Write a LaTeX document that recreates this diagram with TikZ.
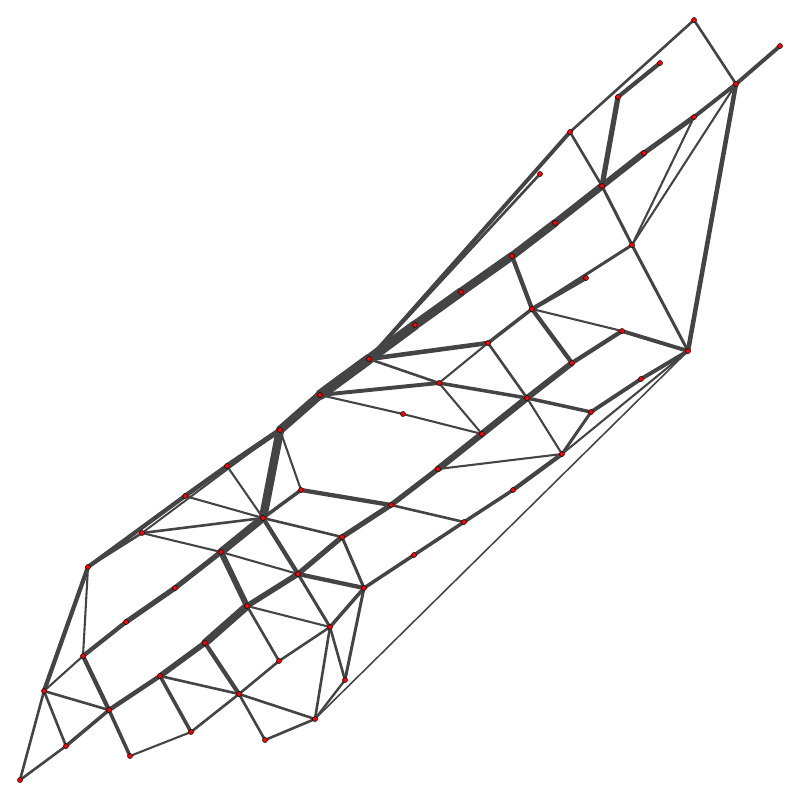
\documentclass[tikz,border=0pt]{standalone}
\usetikzlibrary{backgrounds}
\definecolor{edgegray}{RGB}{68,68,68}
\begin{document}
\begin{tikzpicture}[x=1pt,y=-1pt,
  dot/.style={circle,fill=red,draw=black,line width=0.5pt,inner sep=0pt,minimum size=5pt},
  link/.style={draw=edgegray,line cap=round,line join=round}]
\useasboundingbox (0,0) rectangle (800,800);
\foreach \n/\x/\y in {
A1/694/20, A2/780/46, A3/736/84, A4/660/63, A5/618/97, A6/694/117, A7/570/132, A8/644/153, A9/540/174, A10/602/186,
B1/555/223, B2/632/245, B3/512/256, B4/586/278, B5/461/292, B6/532/309, B7/415/325, B8/622/331, B9/369/359, B10/488/343,
B11/688/351, B12/572/363, B13/439/383, B14/641/379, B15/527/398,
C1/320/395, C2/591/412, C3/403/414, C4/280/430, C5/482/434, C6/562/454, C7/227/466, C8/438/469, C9/301/490, C10/513/490,
C11/391/505, C12/263/518, C13/464/522, C14/221/552, C15/342/537, C16/414/555, C17/298/574, C18/364/588,
E1/185/496, D1/142/533, D3/88/567, D4/175/588, D5/247/606, D6/126/622, D7/330/627, D8/205/643, D9/83/656, D10/279/661,
D11/160/676, D12/345/680, D13/44/691, D14/239/694, D15/109/710, D16/315/719, D17/191/732, D18/265/740, D19/66/746,
D20/130/756, D21/20/780}
  \node[dot] (\n) at (\x,\y) {};
\begin{scope}[on background layer]
\foreach \a/\b/\w in {
A1/A7/2, A1/A3/2, A2/A3/3, A3/A6/3, A6/A8/3.8, A8/A10/4.8, A4/A5/3.2, A5/A10/4, A7/A10/2, A3/B11/3.5,
A3/B2/1.6, A6/B2/1.6, A7/B9/3, A9/B9/2,
A10/B1/5.5, B1/B3/6, B3/B5/6.5, B5/B7/7, B7/B9/7.5, A10/B2/2.3, B2/B11/2.3, B2/B6/2.3, B4/B6/3.3, B3/B6/3.3,
B6/B8/1.6, B6/B10/2.7, B6/B12/3.3, B8/B11/3, B8/B12/3.3, B12/B15/4.5, B9/B10/3.5, B9/B13/2, B10/B13/1.6,
B10/B15/2, B13/B15/2.7, B13/C5/1.6, B15/C2/2.7, B15/C6/1.6, C2/C6/2.3, C2/B14/3, B14/B11/3, C6/B11/1.6,
C8/C6/1.6, B15/C5/5, C5/C8/5, C8/C11/4, C11/C15/4, C15/C17/4, C17/D5/4.3, D5/D8/6, D8/D11/4.3, D11/D15/3.5,
D15/D19/2.7, D19/D21/2,
B9/C1/8, C1/C4/6.5, C4/C7/4, C7/E1/3.5, E1/D3/3.3, D3/D13/3.3, D13/D21/2,
C1/B13/3, C1/C3/1.6, C3/C5/1.6, C4/C9/1.6, C4/C12/6.5, C9/C11/3.3, C9/C12/2.7, C7/C12/1.6, E1/C12/1.6,
D1/C12/2, D1/C14/1.6, C14/C17/1.6, C12/C14/6, C14/D4/4, D4/D6/4, D6/D9/3.3, C12/C15/2, C12/C17/3.3,
C15/C18/2.3, C17/C18/3.3, C11/C13/2, C13/C10/2.7, C10/C6/3.3, C13/C16/2.7, C16/C18/2.7, C17/D7/2.3,
C18/D7/2.7, C18/D12/2.3, D7/D12/2, D7/D16/2, D12/D16/1.8, D5/D7/1.6, D5/D10/2, D10/D7/2, D10/D14/2,
D14/D17/2, D8/D14/3.3, D14/D16/2, D14/D18/2, D18/D16/2, C14/D5/4.5, D3/D9/1.6, D9/D13/1.6, D9/D15/3.3,
D13/D15/2, D13/D19/2, D15/D20/2.7, D20/D17/1.6, D11/D17/2.7, D11/D14/2, D1/D3/2, D1/C4/1.5, B11/D16/1.2}
  \draw[link,line width={1.3*\w pt}] (\a.center) -- (\b.center);
\end{scope}
\end{tikzpicture}
\end{document}
